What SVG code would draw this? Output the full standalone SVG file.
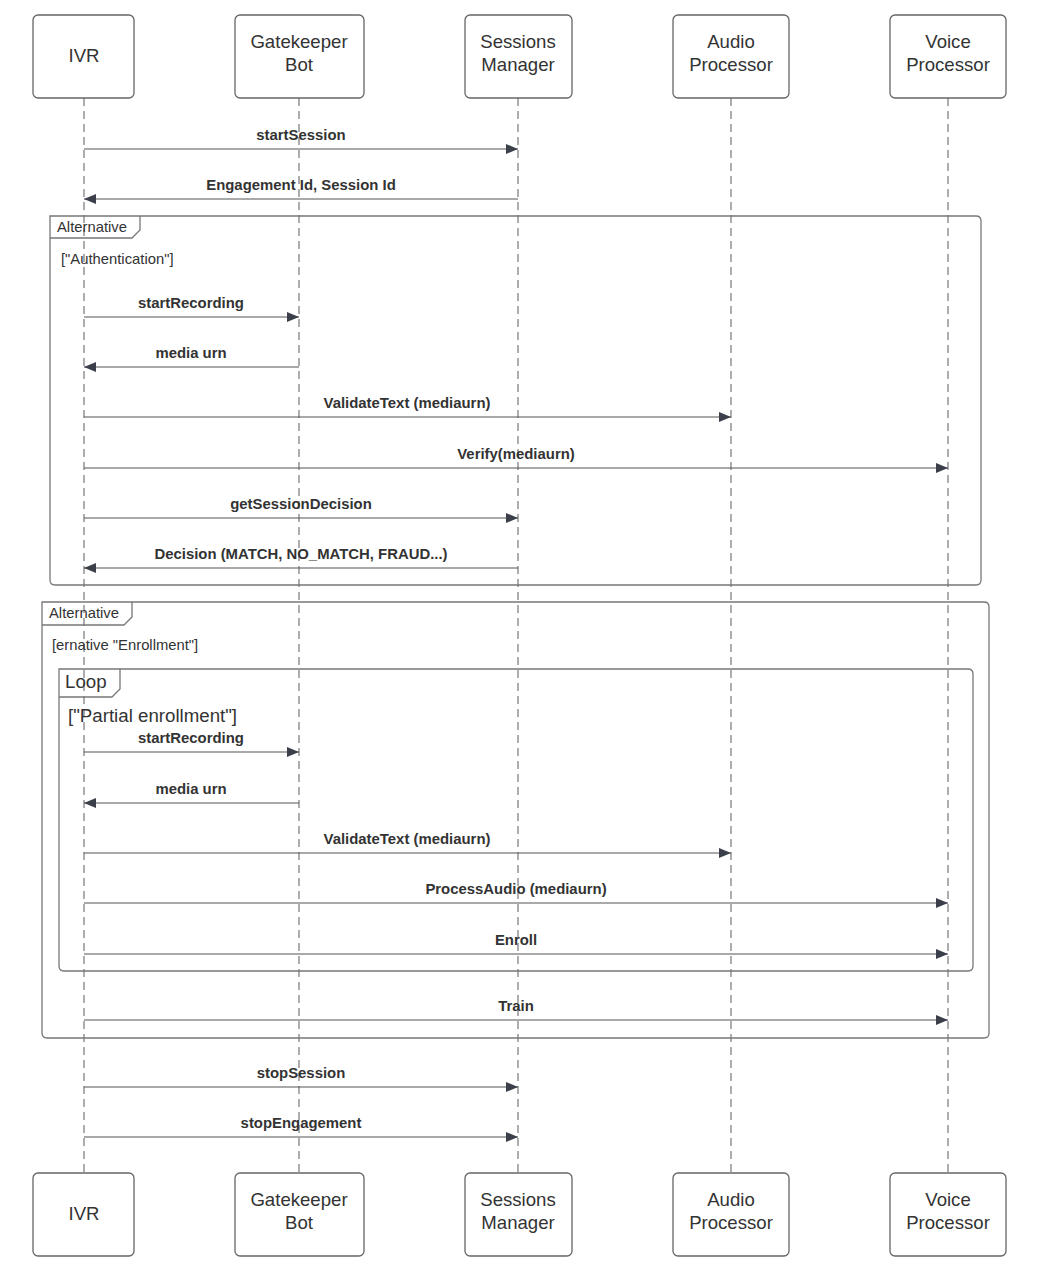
<svg xmlns="http://www.w3.org/2000/svg" width="1040" height="1273" viewBox="0 0 1040 1273">
<style>
.box{fill:#fff;stroke:#666;stroke-width:1.3}
.pt{font-family:"Liberation Sans",Arial,sans-serif;font-size:18.6px;fill:#333;text-anchor:middle}
.life{stroke:#777;stroke-width:1.2;stroke-dasharray:8,5;fill:none}
.msg{stroke:#555;stroke-width:1.2;fill:none}
.ml{font-family:"Liberation Sans",Arial,sans-serif;font-size:14.9px;font-weight:bold;fill:#333;text-anchor:middle}
.frame{fill:none;stroke:#777;stroke-width:1.3}
.ft{font-family:"Liberation Sans",Arial,sans-serif;font-size:14.8px;fill:#333}
.fb{font-family:"Liberation Sans",Arial,sans-serif;font-size:18.7px;fill:#333}
</style>
<defs>
<marker id="ah" viewBox="0 0 12 10" refX="12" refY="5" markerWidth="12" markerHeight="10" markerUnits="userSpaceOnUse" orient="auto">
<path d="M0,0 L12,5 L0,10 z" fill="#3a3f4a"/>
</marker>
</defs>
<g id="lifelines">
<line class="life" x1="84" y1="98" x2="84" y2="1173"/>
<line class="life" x1="299" y1="98" x2="299" y2="1173"/>
<line class="life" x1="518" y1="98" x2="518" y2="1173"/>
<line class="life" x1="731" y1="98" x2="731" y2="1173"/>
<line class="life" x1="948" y1="98" x2="948" y2="1173"/>
</g>
<g id="frame-alt1">
<path class="frame" d="M50,216 H976 Q981,216 981,221 V580 Q981,585 976,585 H55 Q50,585 50,580 Z"/>
<path class="frame" d="M50,238 H132 L140,230 V216"/>
<text class="ft" x="57" y="232">Alternative</text>
<text class="ft" x="61" y="264">["Authentication"]</text>
</g>
<g id="frame-alt2">
<path class="frame" d="M42,602 H984 Q989,602 989,607 V1033 Q989,1038 984,1038 H47 Q42,1038 42,1033 Z"/>
<path class="frame" d="M42,625 H124 L132,617 V602"/>
<text class="ft" x="49" y="618">Alternative</text>
<text class="ft" x="52" y="650">[ernative "Enrollment"]</text>
</g>
<g id="frame-loop">
<path class="frame" d="M59,669 H968 Q973,669 973,674 V966 Q973,971 968,971 H64 Q59,971 59,966 Z"/>
<path class="frame" d="M59,697 H112 L120,689 V669"/>
<text class="fb" x="65" y="688">Loop</text>
<text class="fb" x="68" y="722">["Partial enrollment"]</text>
</g>
<g id="connectors">
<line class="msg" x1="84" y1="149" x2="518" y2="149" marker-end="url(#ah)"/>
<text class="ml" x="301" y="140">startSession</text>
<line class="msg" x1="518" y1="199" x2="84" y2="199" marker-end="url(#ah)"/>
<text class="ml" x="301" y="190">Engagement Id, Session Id</text>
<line class="msg" x1="84" y1="317" x2="299" y2="317" marker-end="url(#ah)"/>
<text class="ml" x="191" y="308">startRecording</text>
<line class="msg" x1="299" y1="367" x2="84" y2="367" marker-end="url(#ah)"/>
<text class="ml" x="191" y="358">media urn</text>
<line class="msg" x1="84" y1="417" x2="731" y2="417" marker-end="url(#ah)"/>
<text class="ml" x="407" y="408">ValidateText (mediaurn)</text>
<line class="msg" x1="84" y1="468" x2="948" y2="468" marker-end="url(#ah)"/>
<text class="ml" x="516" y="459">Verify(mediaurn)</text>
<line class="msg" x1="84" y1="518" x2="518" y2="518" marker-end="url(#ah)"/>
<text class="ml" x="301" y="509">getSessionDecision</text>
<line class="msg" x1="518" y1="568" x2="84" y2="568" marker-end="url(#ah)"/>
<text class="ml" x="301" y="559">Decision (MATCH, NO_MATCH, FRAUD...)</text>
<line class="msg" x1="84" y1="752" x2="299" y2="752" marker-end="url(#ah)"/>
<text class="ml" x="191" y="743">startRecording</text>
<line class="msg" x1="299" y1="803" x2="84" y2="803" marker-end="url(#ah)"/>
<text class="ml" x="191" y="794">media urn</text>
<line class="msg" x1="84" y1="853" x2="731" y2="853" marker-end="url(#ah)"/>
<text class="ml" x="407" y="844">ValidateText (mediaurn)</text>
<line class="msg" x1="84" y1="903" x2="948" y2="903" marker-end="url(#ah)"/>
<text class="ml" x="516" y="894">ProcessAudio (mediaurn)</text>
<line class="msg" x1="84" y1="954" x2="948" y2="954" marker-end="url(#ah)"/>
<text class="ml" x="516" y="945">Enroll</text>
<line class="msg" x1="84" y1="1020" x2="948" y2="1020" marker-end="url(#ah)"/>
<text class="ml" x="516" y="1011">Train</text>
<line class="msg" x1="84" y1="1087" x2="518" y2="1087" marker-end="url(#ah)"/>
<text class="ml" x="301" y="1078">stopSession</text>
<line class="msg" x1="84" y1="1137" x2="518" y2="1137" marker-end="url(#ah)"/>
<text class="ml" x="301" y="1128">stopEngagement</text>
</g>
<g id="p-ivr-top"><rect class="box" x="33" y="15" width="101" height="83" rx="5"/><text class="pt" x="84" y="62">IVR</text></g>
<g id="p-gk-top"><rect class="box" x="235" y="15" width="129" height="83" rx="5"/><text class="pt" x="299" y="48">Gatekeeper</text><text class="pt" x="299" y="71">Bot</text></g>
<g id="p-sm-top"><rect class="box" x="465" y="15" width="107" height="83" rx="5"/><text class="pt" x="518" y="48">Sessions</text><text class="pt" x="518" y="71">Manager</text></g>
<g id="p-ap-top"><rect class="box" x="673" y="15" width="116" height="83" rx="5"/><text class="pt" x="731" y="48">Audio</text><text class="pt" x="731" y="71">Processor</text></g>
<g id="p-vp-top"><rect class="box" x="890" y="15" width="116" height="83" rx="5"/><text class="pt" x="948" y="48">Voice</text><text class="pt" x="948" y="71">Processor</text></g>
<g id="p-ivr-bot"><rect class="box" x="33" y="1173" width="101" height="83" rx="5"/><text class="pt" x="84" y="1220">IVR</text></g>
<g id="p-gk-bot"><rect class="box" x="235" y="1173" width="129" height="83" rx="5"/><text class="pt" x="299" y="1206">Gatekeeper</text><text class="pt" x="299" y="1229">Bot</text></g>
<g id="p-sm-bot"><rect class="box" x="465" y="1173" width="107" height="83" rx="5"/><text class="pt" x="518" y="1206">Sessions</text><text class="pt" x="518" y="1229">Manager</text></g>
<g id="p-ap-bot"><rect class="box" x="673" y="1173" width="116" height="83" rx="5"/><text class="pt" x="731" y="1206">Audio</text><text class="pt" x="731" y="1229">Processor</text></g>
<g id="p-vp-bot"><rect class="box" x="890" y="1173" width="116" height="83" rx="5"/><text class="pt" x="948" y="1206">Voice</text><text class="pt" x="948" y="1229">Processor</text></g>
</svg>
